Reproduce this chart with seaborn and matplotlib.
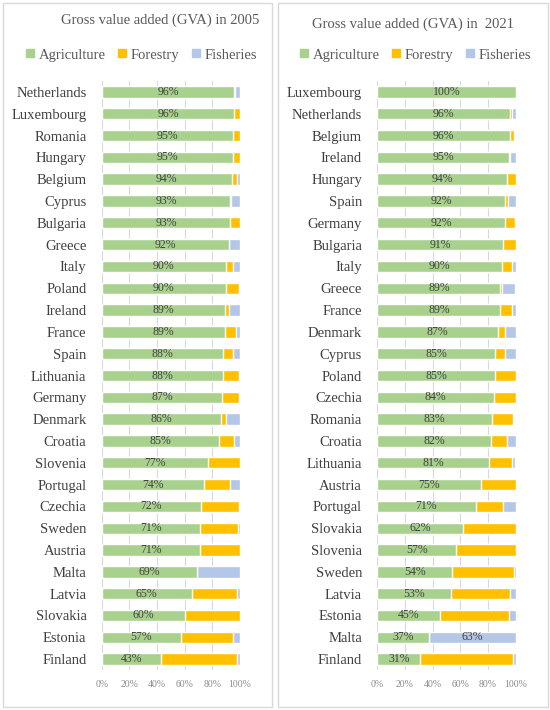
import numpy as np
import pandas as pd
import seaborn as sns
import matplotlib.pyplot as plt
from matplotlib.patches import Rectangle
from matplotlib.lines import Line2D

sns.set_theme(style="white")
plt.rcParams['font.family'] = ['Liberation Serif', 'DejaVu Serif']

# Data: shares of GVA (%)
countries_2005 = ['Netherlands', 'Luxembourg', 'Romania', 'Hungary', 'Belgium', 'Cyprus',
                  'Bulgaria', 'Greece', 'Italy', 'Poland', 'Ireland', 'France', 'Spain',
                  'Lithuania', 'Germany', 'Denmark', 'Croatia', 'Slovenia', 'Portugal',
                  'Czechia', 'Sweden', 'Austria', 'Malta', 'Latvia', 'Slovakia', 'Estonia',
                  'Finland']
agri_2005 = [96, 96, 95, 95, 94, 93, 93, 92, 90, 90, 89, 89, 88, 88, 87, 86, 85, 77, 74,
             72, 71, 71, 69, 65, 60, 57, 43]
forest_2005 = [0.5, 4, 4.7, 5, 4, 0.5, 7, 0.3, 5, 9.5, 3, 8, 7, 11, 12, 4, 11, 23, 19,
               27.5, 27.5, 29, 0, 33, 40, 38, 55]
fish_2005 = [3.5, 0, 0.3, 0, 2, 6.5, 0, 7.7, 5, 0.5, 8, 3, 5, 1, 1, 10, 4, 0, 7,
             0.5, 1.5, 0, 31, 2, 0, 5, 2]

countries_2021 = ['Luxembourg', 'Netherlands', 'Belgium', 'Ireland', 'Hungary', 'Spain',
                  'Germany', 'Bulgaria', 'Italy', 'Greece', 'France', 'Denmark', 'Cyprus',
                  'Poland', 'Czechia', 'Romania', 'Croatia', 'Lithuania', 'Austria',
                  'Portugal', 'Slovakia', 'Slovenia', 'Sweden', 'Latvia', 'Estonia',
                  'Malta', 'Finland']
agri_2021 = [100, 96, 96, 95, 94, 92, 92, 91, 90, 89, 89, 87, 85, 85, 84, 83, 82, 81, 75,
             71, 62, 57, 54, 53, 45, 37, 31]
forest_2021 = [0.3, 1.5, 3, 1, 6, 2.5, 7.5, 9, 7.5, 0.8, 8, 5.5, 7, 15, 16, 15, 11.5, 16,
               25, 20, 38, 43, 45, 43, 50.5, 0, 67]
fish_2021 = [0, 2.5, 0.7, 4, 0, 5.5, 0.5, 0, 2.5, 10, 3, 7.5, 8, 0, 0, 1, 6.5, 2.5,
             0, 9, 0, 0, 1, 4, 5, 63, 2]

c_agri = '#A9D18E'
c_forest = '#FFC000'
c_fish = '#B4C7E7'

W, H = 550, 710
fig = plt.figure(figsize=(W / 100, H / 100), dpi=100)


def draw_panel(ax, countries, agri, forest, fish):
    df = pd.DataFrame({'country': countries, 'agri': agri,
                       'forest': forest, 'fish': fish})
    df['af'] = df['agri'] + df['forest']
    df['all'] = df['af'] + df['fish']

    # stacked bars: draw cumulative totals back to front
    sns.barplot(data=df, x='all', y='country', color=c_fish, saturation=1,
                orient='h', width=0.52, ax=ax)
    sns.barplot(data=df, x='af', y='country', color=c_forest, saturation=1,
                orient='h', width=0.52, ax=ax)
    sns.barplot(data=df, x='agri', y='country', color=c_agri, saturation=1,
                orient='h', width=0.52, ax=ax)

    ax.bar_label(ax.containers[2], labels=[f"{v:.0f}%" for v in df['agri']],
                 label_type='center', fontsize=8.5, color='#404040')
    for i, row in df.iterrows():
        if row['fish'] > 50:
            ax.text(row['af'] + row['fish'] / 2, i, f"{row['fish']:.0f}%",
                    ha='center', va='center', fontsize=8.5, color='#404040')

    ax.set_xlim(0, 100)
    ax.set_xticks([0, 20, 40, 60, 80, 100])
    ax.set_xticklabels([f"{t}%" for t in [0, 20, 40, 60, 80, 100]],
                       fontsize=7, color='#8c8c8c')
    ax.tick_params(axis='y', labelsize=10.5, colors='#404040', pad=11, length=0)
    ax.tick_params(axis='x', pad=7, length=0)
    ax.set_xlabel('')
    ax.set_ylabel('')
    ax.grid(axis='x', color='#d9d9d9', linewidth=0.8)
    ax.set_axisbelow(True)
    for s in ax.spines.values():
        s.set_visible(False)


ax1 = fig.add_axes([101.7 / W, 1 - 670 / H, 138.3 / W, 589 / H])
ax2 = fig.add_axes([377.3 / W, 1 - 670 / H, 138.4 / W, 589 / H])
draw_panel(ax1, countries_2005, agri_2005, forest_2005, fish_2005)
draw_panel(ax2, countries_2021, agri_2021, forest_2021, fish_2021)

# panel borders
for x0, x1 in [(3, 272), (278, 548)]:
    fig.patches.append(Rectangle((x0 / W, 1 - 707 / H), (x1 - x0) / W, 704 / H,
                                 transform=fig.transFigure, fill=False,
                                 edgecolor='#d9d9d9', linewidth=1))

fig.text(160 / W, 1 - 20 / H, 'Gross value added (GVA) in 2005', ha='center',
         va='center', fontsize=10.5, color='#595959')
fig.text(413 / W, 1 - 24 / H, 'Gross value added (GVA) in  2021', ha='center',
         va='center', fontsize=10.5, color='#595959')

handles = [Line2D([], [], marker='s', linestyle='', markersize=6, color=c)
           for c in [c_agri, c_forest, c_fish]]
names = ['Agriculture', 'Forestry', 'Fisheries']
for cx, cy in [(140, 55), (414, 55)]:
    fig.legend(handles, names, loc='center', bbox_to_anchor=(cx / W, 1 - cy / H),
               ncol=3, frameon=False, fontsize=10.5, handletextpad=0.1,
               columnspacing=0.6, handlelength=1.0, labelcolor='#595959')

fig.savefig('out.png', dpi=100)
